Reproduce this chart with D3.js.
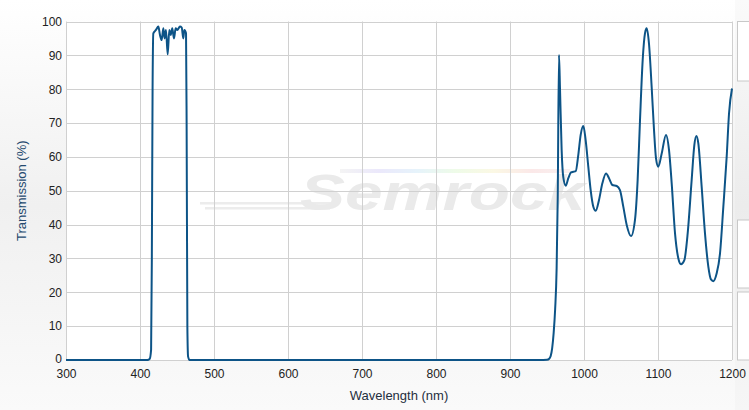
<!DOCTYPE html>
<html><head><meta charset="utf-8">
<script src="https://cdn.jsdelivr.net/npm/d3@7"></script>
<style>
html,body{margin:0;padding:0;}
body{width:749px;height:410px;overflow:hidden;background:linear-gradient(#ffffff 0%,#f0f0f0 50%,#fafafa 100%);}
svg{display:block;font-family:"Liberation Sans",Arial,sans-serif;}
</style></head><body>
<svg id="c" width="749" height="410"></svg>
<script>
// Wavelength (nm) and Transmission (%)
const wavelength = [300,410,413,415,416,417,418,421.6,424.8,427,429.3,431.5,433.3,435.1,437.4,439.6,441.5,443.6,445.9,448.2,450.4,454,456.4,458.5,459.9,462.2,463,464,465,467,
  600,800,940,950,953,955,957,959,961,963,964.5,966.2,967.6,969.8,972,975.3,978.8,982.4,985.6,988.8,992.3,995.5,999.1,1002.2,1005.8,1009,1012.6,1015.8,1020.3,1024.8,1029.8,1033.8,1038.3,1044.2,1048.6,1053.1,1057.7,1063.5,1068.9,1072.5,1075.7,1079.3,1082.4,1084.7,1087.8,1091.4,1094.6,1097.3,1100.4,1105,1110.8,1114.9,1118.5,1123,1127.5,1131.1,1135.6,1140.1,1145.5,1149.1,1151.8,1154.5,1159,1163.5,1168,1171.6,1174.8,1179.3,1183.8,1188.3,1192.8,1196,1200];
const transmission = [0,0,0.3,3,30,80,96.5,97.5,98.5,96,94.5,98,95,97.5,90.3,97.5,96,98,95,98,97.5,98.5,98.2,95,97.5,96.5,70,10,1,0,
  0,0,0,0.1,0.4,1.2,3.5,8,15,27,48,90.1,79.8,62,54,51.5,53.7,55.4,55.6,55.8,60.6,66.5,69.1,65,57.1,50.2,45.3,44.1,47.3,52.2,55.1,53.7,51.7,51.4,50.2,45.3,39.9,36.6,41.4,53.2,70.9,88.6,96.5,98,93.5,80.8,68,59.6,57.1,61,66.5,62,52.2,37.4,30,28.3,29.5,37.4,53.2,63.5,66.2,64,51.2,37.4,27.6,23.8,23.3,25.6,31.5,45.3,60,72.9,80.2];
const xTicks = [300,400,500,600,700,800,900,1000,1100,1200];
const yTicks = [0,10,20,30,40,50,60,70,80,90,100];
const xTitle = "Wavelength (nm)";
const yTitle = "Transmission (%)";
const watermark = "Semrock";

const svg = d3.select("#c");
const L=66, R=732, T=21.5, B=360;
const x = d3.scaleLinear().domain([300,1200]).range([L,R]);
const y = d3.scaleLinear().domain([0,100]).range([B,T]);

// right side panel
const defs = svg.append("defs");
const g1 = defs.append("linearGradient").attr("id","pg").attr("x1",0).attr("y1",0).attr("x2",0).attr("y2",1);
g1.append("stop").attr("offset","0%").attr("stop-color","#fafafa");
g1.append("stop").attr("offset","50%").attr("stop-color","#ececec");
g1.append("stop").attr("offset","100%").attr("stop-color","#f6f6f6");
svg.append("rect").attr("x",735).attr("y",0).attr("width",14).attr("height",410).attr("fill","url(#pg)");
[[21.5,81],[220,288],[292,360]].forEach(b=>{
  svg.append("rect").attr("x",737.5).attr("y",b[0]).attr("width",20).attr("height",b[1]-b[0])
    .attr("fill","#fff").attr("stroke","#c8c8c8").attr("stroke-width",1);
});

// plot area
svg.append("rect").attr("x",L).attr("y",T).attr("width",R-L).attr("height",B-T).attr("fill","#fff");

// watermark
const wm = svg.append("g");
const rb = defs.append("linearGradient").attr("id","rb");
["#f4f4f4","#ebe8fb","#e6f3fb","#eefbe8","#fbf8e4","#fbe8e8","#f8f0f0"].forEach((c,i,a)=>rb.append("stop").attr("offset",(i/(a.length-1)*100)+"%").attr("stop-color",c));
wm.append("rect").attr("x",340).attr("y",169).attr("width",230).attr("height",4).attr("fill","url(#rb)");
wm.append("rect").attr("x",200).attr("y",202).attr("width",135).attr("height",2.5).attr("fill","#ececec");
wm.append("rect").attr("x",205).attr("y",207).attr("width",125).attr("height",2.5).attr("fill","#ececec");
wm.append("text").attr("x",300).attr("y",210).attr("font-size",50).attr("font-weight","bold").attr("font-style","italic")
  .attr("fill","#eaeaea").attr("textLength",285).attr("lengthAdjust","spacingAndGlyphs").text(watermark);

// grid
svg.append("g").selectAll("line").data(yTicks).join("line")
  .attr("x1",L).attr("x2",R).attr("y1",d=>Math.round(y(d))+0.5).attr("y2",d=>Math.round(y(d))+0.5)
  .attr("stroke","#d0d0d0");
svg.append("g").selectAll("line").data(xTicks).join("line")
  .attr("y1",T).attr("y2",B).attr("x1",d=>Math.round(x(d))+0.5).attr("x2",d=>Math.round(x(d))+0.5)
  .attr("stroke","#d0d0d0");

// axes (labels only)
const ax = svg.append("g").attr("transform",`translate(0,${B})`).call(d3.axisBottom(x).tickValues(xTicks).tickSize(0).tickPadding(9).tickFormat(d3.format("d")));
ax.select(".domain").remove();
ax.selectAll("text").attr("font-size",12).attr("fill","#222").attr("font-family","Liberation Sans, Arial, sans-serif");
const ay = svg.append("g").attr("transform",`translate(${L},0)`).call(d3.axisLeft(y).tickValues(yTicks).tickSize(0).tickPadding(4).tickFormat(d3.format("d")));
ay.select(".domain").remove();
ay.selectAll("text").attr("font-size",12).attr("fill","#222").attr("font-family","Liberation Sans, Arial, sans-serif");
ay.selectAll("text").filter(d=>d===0).attr("dy","0.2em");

// titles
svg.append("text").attr("x",(L+R)/2).attr("y",400).attr("text-anchor","middle").attr("font-size",13).attr("fill","#1f2f40").text(xTitle);
svg.append("text").attr("transform",`translate(26,${(T+B)/2}) rotate(-90)`).attr("text-anchor","middle").attr("font-size",13).attr("fill","#24496e").text(yTitle);

// line
defs.append("clipPath").attr("id","clip").append("rect").attr("x",L).attr("y",T-3).attr("width",R-L+1).attr("height",B-T+6);
const pts = wavelength.map((w,i)=>[w,transmission[i]]);
const line = d3.line().x(d=>x(d[0])).y(d=>y(d[1])).curve(d3.curveMonotoneX);
svg.append("path").attr("d",line(pts)).attr("fill","none").attr("stroke","#0d5487").attr("stroke-width",2)
  .attr("stroke-linejoin","round").attr("clip-path","url(#clip)");
</script>
</body></html>
